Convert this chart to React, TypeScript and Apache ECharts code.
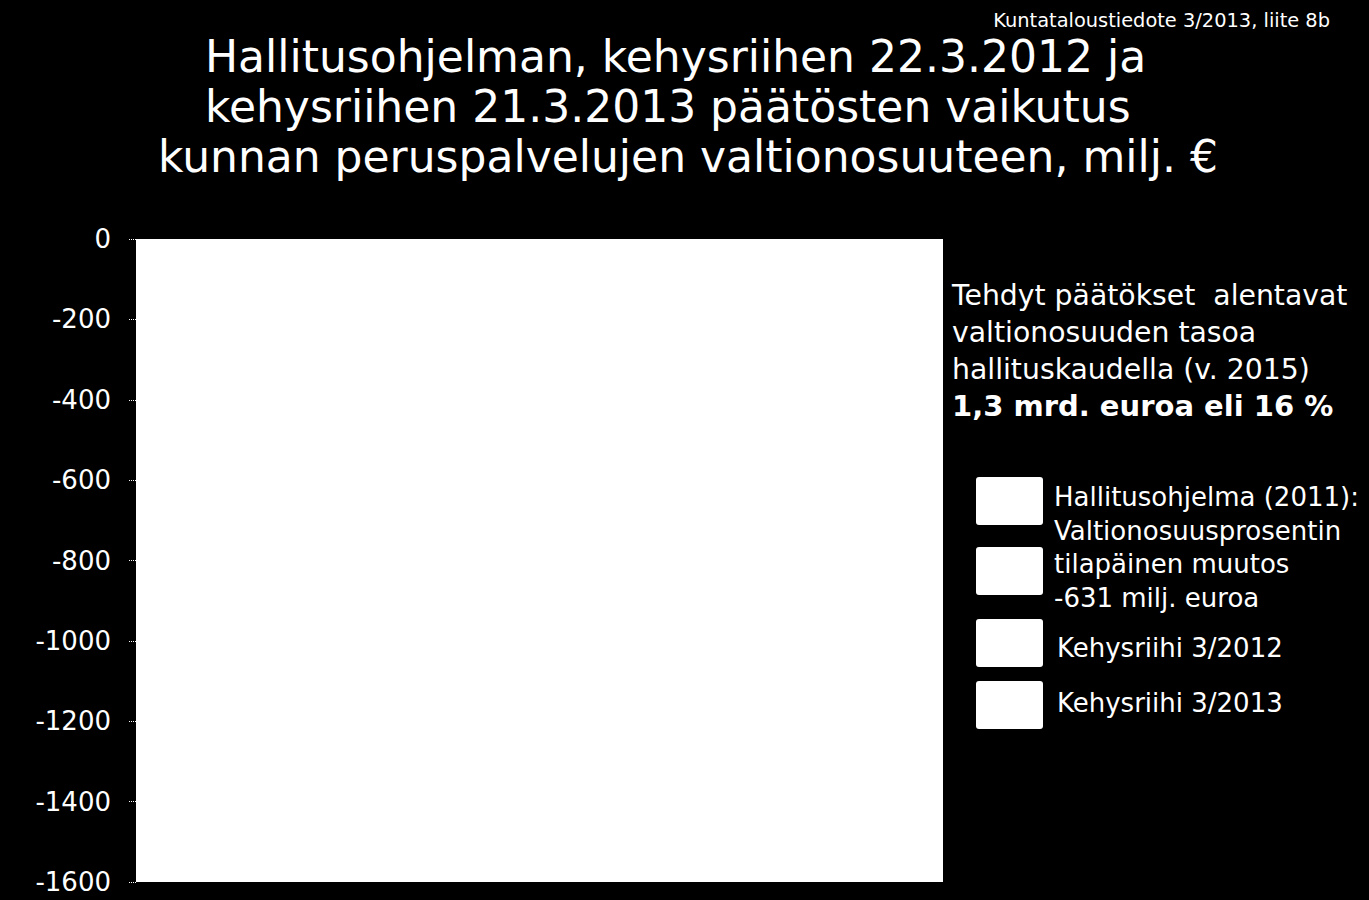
import { useEffect, useRef } from "react";
import * as echarts from "echarts";

const FONT = "'DejaVu Sans', Verdana, sans-serif";

const titleLines = [
  "Hallitusohjelman, kehysriihen 22.3.2012 ja",
  "kehysriihen 21.3.2013 päätösten vaikutus",
  "kunnan peruspalvelujen valtionosuuteen, milj. €",
];
const sourceNote = "Kuntataloustiedote 3/2013, liite 8b";
const noteLines = [
  "Tehdyt päätökset  alentavat",
  "valtionosuuden tasoa",
  "hallituskaudella (v. 2015)",
];
const noteBold = "1,3 mrd. euroa eli 16 %";

// legend entries (the bars themselves are white on white in the source)
const seriesNames = [
  "Hallitusohjelma (2011):",
  "Valtionosuusprosentin tilapäinen muutos -631 milj. euroa",
  "Kehysriihi 3/2012",
  "Kehysriihi 3/2013",
];
const legendLines = [
  "Hallitusohjelma (2011):",
  "Valtionosuusprosentin",
  "tilapäinen muutos",
  "-631 milj. euroa",
];
const categories: string[] = [];
const yMin = -1600;
const yMax = 0;
const yStep = 200;

export default function App() {
  const ref = useRef<HTMLDivElement>(null);

  useEffect(() => {
    document.body.style.margin = "0";
    document.body.style.background = "#000";
    if (!ref.current) return;
    const chart = echarts.init(ref.current, undefined, { renderer: "svg" });

    const text = (t: string, x: number, y: number, size: number, extra: any = {}) => ({
      type: "text",
      x,
      y,
      style: {
        text: t,
        fill: "#fff",
        font: `${extra.weight || "normal"} ${size}px ${FONT}`,
        textAlign: extra.align || "left",
        textVerticalAlign: "middle",
      },
    });

    const titleLeft = [205, 205, 158];
    const squares = [
      [976, 477],
      [976, 547],
      [976, 619],
      [976, 681],
    ];

    chart.setOption({
      animation: false,
      backgroundColor: "#000",
      grid: {
        left: 136,
        right: 426,
        top: 239,
        bottom: 18,
        show: true,
        backgroundColor: "#fff",
        borderWidth: 0,
      },
      xAxis: {
        type: "category",
        data: categories,
        axisLine: { show: false },
        axisTick: { show: false },
        axisLabel: { show: false },
      },
      yAxis: {
        type: "value",
        min: yMin,
        max: yMax,
        interval: yStep,
        axisLine: { show: false },
        axisTick: { show: true, length: 8, lineStyle: { color: "#fff", type: "dotted", width: 1 } },
        splitLine: { show: false },
        axisLabel: {
          color: "#fff",
          fontSize: 26,
          fontFamily: FONT,
          margin: 25,
          formatter: (v: number) => String(v),
        },
      },
      series: seriesNames.map((name) => ({
        name,
        type: "bar",
        stack: "total",
        data: [],
        itemStyle: { color: "#fff" },
      })),
      graphic: [
        ...titleLines.map((t, i) => text(t, titleLeft[i], 56 + i * 50, 44)),
        text(sourceNote, 1330, 20, 19.4, { align: "right" }),
        ...noteLines.map((t, i) => text(t, 952, 295 + i * 37, 28.3)),
        text(noteBold, 952, 406, 29, { weight: "bold" }),
        ...squares.map(([x, y]) => ({
          type: "rect",
          shape: { x, y, width: 67, height: 48, r: 3 },
          style: { fill: "#fff" },
        })),
        ...legendLines.map((t, i) => text(t, 1054, 497 + i * 33.5, 26)),
        text(seriesNames[2], 1057, 648, 26),
        text(seriesNames[3], 1057, 703, 26),
      ],
    });

    return () => chart.dispose();
  }, []);

  return <div ref={ref} style={{ width: 1369, height: 900 }} />;
}
